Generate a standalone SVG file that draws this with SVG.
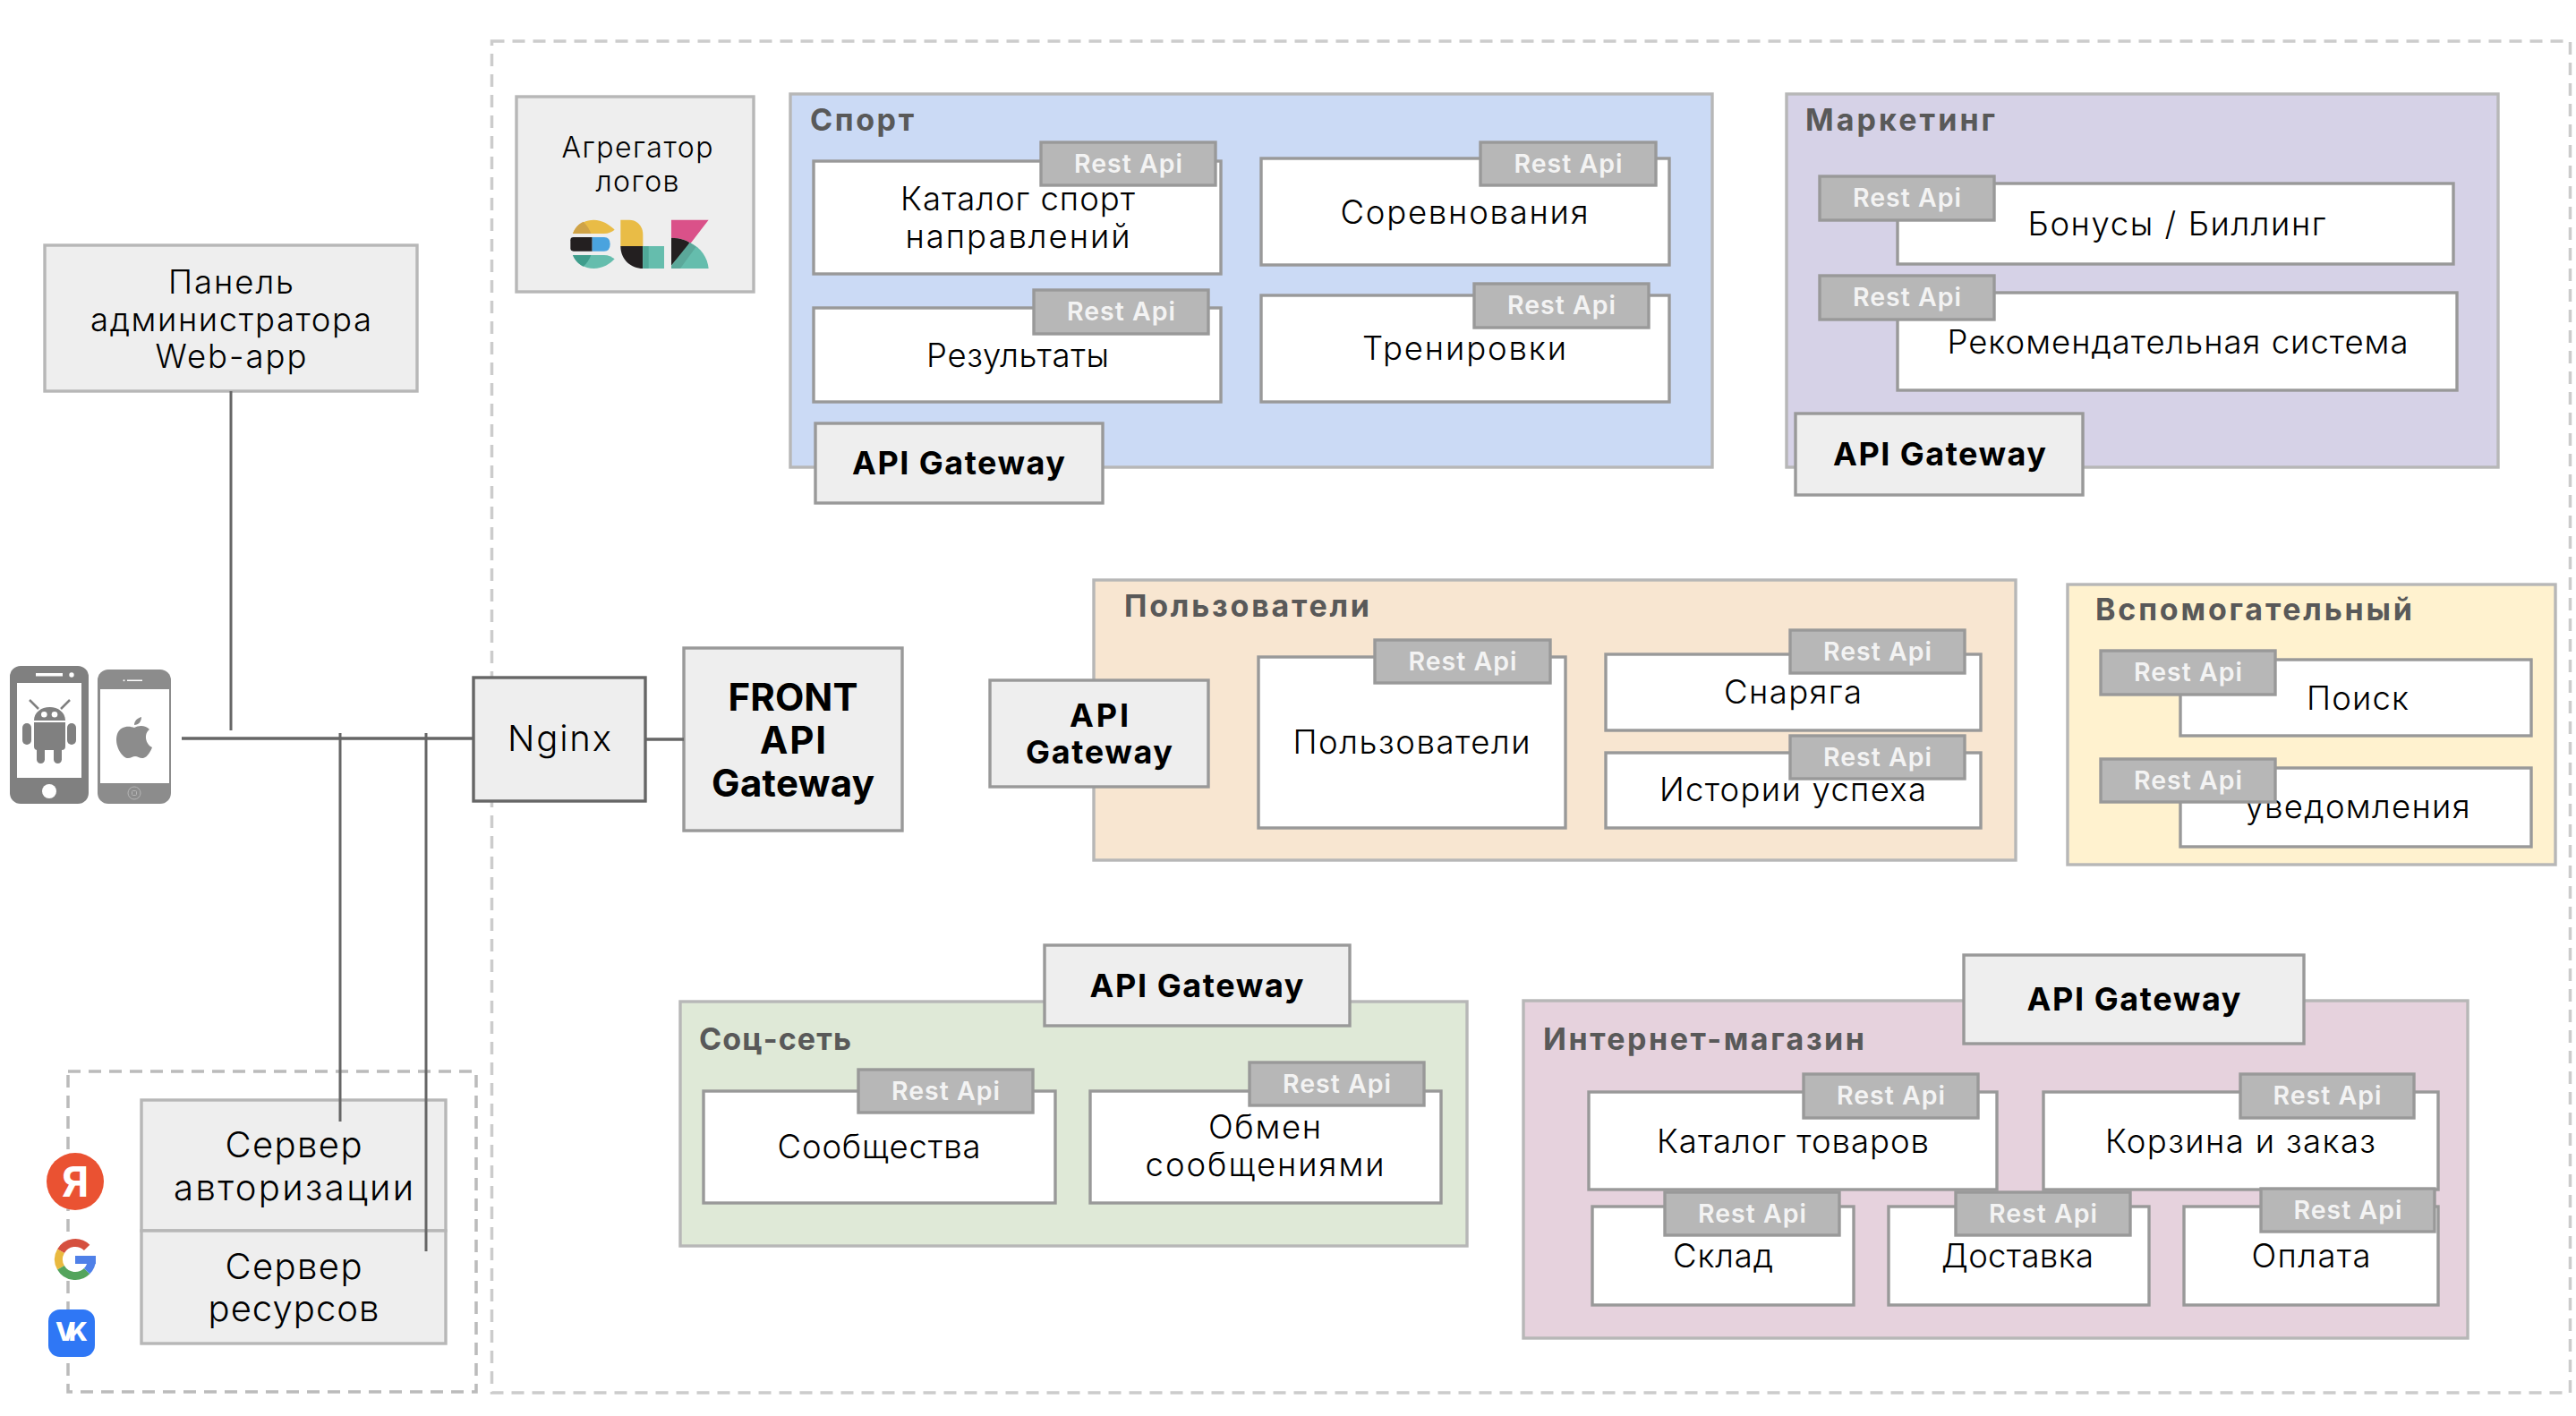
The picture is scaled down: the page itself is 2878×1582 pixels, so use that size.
<svg xmlns="http://www.w3.org/2000/svg" width="2878" height="1582" viewBox="0 0 2878 1582">
<style>
text{font-family:"Inter","Liberation Sans",sans-serif;text-anchor:middle;fill:#000}
.zone{fill:none;stroke-width:3.5;stroke-dasharray:14 9}
.box{fill:#eee;stroke:#b7b7b7;stroke-width:3.4}
.grp{stroke:#b7b7b7;stroke-width:3.4}
.svc{fill:#fff;stroke:#999;stroke-width:3.4}
.tag{fill:#b7b7b7;stroke:#999;stroke-width:3.4}
.gw{fill:#eee;stroke:#999;stroke-width:3.4}
.t{font-size:36.500px;font-weight:300}
.b{font-size:36px;font-weight:700}
.l{font-size:34px;font-weight:700;fill:#595959;text-anchor:start}
.r{font-size:28.500px;font-weight:600;fill:#f3f3f3}
.cn{stroke:#666;stroke-width:3.5;fill:none}
.ph{fill:#808080}
.w{fill:#fff}
</style>
<rect class="zone" style="stroke:#ccc" x="549.500" y="46" width="2322" height="1510"/>
<rect class="zone" style="stroke:#bbb" x="76" y="1197" width="456" height="358"/>

<g id="admin-panel"><rect class="box" x="50" y="274" width="416" height="163"/>
<text class="t" x="258" y="328" textLength="140">Панель</text>
<text class="t" x="258" y="370" textLength="314">администратора</text>
<text class="t" x="258" y="411" textLength="169">Web-app</text></g>

<g id="android-phone">
<rect class="ph" x="11" y="744" width="88" height="154" rx="12"/>
<rect class="w" x="19" y="763" width="72" height="106"/>
<rect class="w" x="40" y="752" width="30" height="3.500"/><circle class="w" cx="80" cy="754" r="2.700"/>
<circle class="w" cx="55" cy="884" r="8"/>
<path class="ph" d="M38 805C38 796 46 790 55.500 790S73 796 73 805ZM38 807H73V834Q73 838 69 838H42Q38 838 38 834Z"/>
<path d="M43 792L33 782M68 792L78 782" stroke="#808080" stroke-width="2.500"/>
<circle class="w" cx="49.300" cy="798.300" r="3.300"/><circle class="w" cx="61" cy="798.300" r="3.300"/>
<rect class="ph" x="25" y="808" width="10" height="24" rx="5"/><rect class="ph" x="75" y="808" width="10" height="24" rx="5"/>
<rect class="ph" x="41" y="830" width="9" height="23" rx="4.500"/><rect class="ph" x="60" y="830" width="9" height="23" rx="4.500"/>
</g>
<g id="apple-phone">
<rect x="109" y="748" width="82" height="150" rx="12" fill="#8c8c8c"/>
<rect class="w" x="112" y="770" width="77" height="105"/>
<rect class="w" x="142" y="759.500" width="17" height="1.500"/><circle class="w" cx="138.500" cy="760.300" r="1"/>
<circle cx="150" cy="886" r="7" fill="none" stroke="#b5b5b5" stroke-width="1"/><rect x="147.500" y="883.500" width="5" height="5" rx="1" fill="none" stroke="#b5b5b5" stroke-width="1"/>
<path fill="#8c8c8c" d="M150 813C145 811 135 810 131 820C127 832 136 846 142 847C146 847.500 148 845 151 845C154 845 156 847.500 160 847C165 846 169 838 170 835C163 832 160 820 167 815C163 810 155 810 150 813ZM150 810C150 805 154 802 158 801C158 806 155 810 150 810Z"/>
</g>

<g id="nginx"><rect x="529" y="757" width="192" height="138" fill="#eee" stroke="#666" stroke-width="3.400"/>
<text x="625" y="839" class="t" style="font-size:40px" textLength="116">Nginx</text></g>
<g id="front-api-gateway"><rect class="box" style="stroke:#999" x="764" y="724" width="244" height="204"/>
<text class="b" style="font-size:42px" x="886" y="794" textLength="145">FRONT</text>
<text class="b" style="font-size:42px" x="886" y="842" textLength="74">API</text>
<text class="b" style="font-size:42px" x="886" y="890" textLength="182">Gateway</text></g>

<g id="log-aggregator"><rect class="box" x="577" y="108" width="265" height="218"/>
<text class="t" style="font-size:32px" x="712" y="176" textLength="169">Агрегатор</text>
<text class="t" style="font-size:32px" x="712" y="214" textLength="93">логов</text>
<g transform="translate(625 235) scale(.3333)">
<path fill="#e9bc46" d="M45 78C55 48 85 32 115 32C145 32 170 50 185 65C175 72 165 78 150 78Z"/>
<path fill="#cfa347" d="M45 78C52 58 65 45 80 38C92 50 100 62 106 78Z"/>
<path fill="#231f20" d="M47 90H110V137H47Q37 137 37 127V100Q37 90 47 90Z"/>
<path fill="#4aa3de" d="M110 90H150Q170 90 170 113T150 137H110Z"/>
<path fill="#65bdad" d="M45 150H150C165 150 175 156 185 163C170 180 145 195 115 195C85 195 55 178 45 150Z"/>
<path fill="#3f9d8c" d="M45 150H106C100 166 92 178 80 188C65 181 52 168 45 150Z"/>
<path fill="#e9bc46" d="M205 32H235C262 32 280 55 280 80V120H205Z"/>
<path fill="#231f20" d="M205 120H280V195C240 195 205 165 205 120Z"/>
<rect x="280" y="120" width="71" height="75" fill="#65bdad"/>
<rect x="280" y="120" width="19" height="75" fill="#4fa898"/>
<path fill="#da5189" d="M375 32H500L440 110C420 98 400 92 375 92Z"/>
<path fill="#231f20" d="M375 92C400 92 420 98 440 110L375 185Z"/>
<path fill="#65bdad" d="M437 108C475 125 497 160 500 195H382Z"/>
<path fill="#5ba89a" d="M375 185L437 108L458 122L405 195H375Z"/>
</g></g>

<g id="sport"><rect class="grp" fill="#cbdaf5" x="883" y="105" width="1030" height="417"/>
<text class="l" x="905" y="146" textLength="116">Спорт</text></g>
<g id="sport-catalog"><rect class="svc" x="909" y="180" width="455" height="126"/>
<text class="t" x="1137" y="235" textLength="262">Каталог спорт</text>
<text class="t" x="1137" y="277" textLength="251">направлений</text>
<rect class="tag" x="1163" y="159" width="195" height="48"/><text class="r" x="1260.500" y="193" textLength="121">Rest Api</text></g>
<g id="sport-results"><rect class="svc" x="909" y="344" width="455" height="105"/>
<text class="t" x="1137" y="410" textLength="204">Результаты</text>
<rect class="tag" x="1155" y="324" width="195" height="49"/><text class="r" x="1252.500" y="358" textLength="121">Rest Api</text></g>
<g id="sport-competitions"><rect class="svc" x="1409" y="177" width="456" height="119"/>
<text class="t" x="1636" y="250" textLength="277">Соревнования</text>
<rect class="tag" x="1654" y="159" width="196" height="48"/><text class="r" x="1752" y="193" textLength="121">Rest Api</text></g>
<g id="sport-trainings"><rect class="svc" x="1409" y="330" width="456" height="119"/>
<text class="t" x="1636" y="402" textLength="228">Тренировки</text>
<rect class="tag" x="1647" y="317" width="195" height="49"/><text class="r" x="1744.500" y="351" textLength="121">Rest Api</text></g>
<g id="sport-gateway"><rect class="gw" x="911" y="473" width="321" height="89"/>
<text class="b" x="1071" y="530" textLength="238">API Gateway</text></g>

<g id="marketing"><rect class="grp" fill="#d6d2e7" x="1996" y="105" width="795" height="417"/>
<text class="l" x="2017" y="146" textLength="212">Маркетинг</text></g>
<g id="marketing-bonus"><rect class="svc" x="2120" y="205" width="621" height="90"/>
<text class="t" x="2432" y="263" textLength="333">Бонусы / Биллинг</text>
<rect class="tag" x="2033" y="197" width="195" height="49"/><text class="r" x="2130.500" y="231" textLength="121">Rest Api</text></g>
<g id="marketing-recommend"><rect class="svc" x="2120" y="327" width="625" height="109"/>
<text class="t" x="2433" y="395" textLength="515">Рекомендательная система</text>
<rect class="tag" x="2033" y="308" width="195" height="49"/><text class="r" x="2130.500" y="342" textLength="121">Rest Api</text></g>
<g id="marketing-gateway"><rect class="gw" x="2006" y="462" width="321" height="91"/>
<text class="b" x="2167" y="520" textLength="238">API Gateway</text></g>

<g id="users"><rect class="grp" fill="#f8e6d1" x="1222" y="648" width="1030" height="313"/>
<text class="l" x="1256" y="689" textLength="274">Пользователи</text></g>
<g id="users-gateway"><rect class="gw" x="1106" y="760" width="244" height="119"/>
<text class="b" x="1228" y="812" textLength="66">API</text>
<text class="b" x="1228" y="853" textLength="164">Gateway</text></g>
<g id="users-service"><rect class="svc" x="1406" y="734" width="343" height="191"/>
<text class="t" x="1577" y="842" textLength="265">Пользователи</text>
<rect class="tag" x="1536" y="715" width="196" height="48"/><text class="r" x="1634" y="749" textLength="121">Rest Api</text></g>
<g id="users-gear"><rect class="svc" x="1794" y="731" width="419" height="85"/>
<text class="t" x="2003" y="786" textLength="154">Снаряга</text>
<rect class="tag" x="2000" y="704" width="195" height="48"/><text class="r" x="2097.500" y="738" textLength="121">Rest Api</text></g>
<g id="users-stories"><rect class="svc" x="1794" y="841" width="419" height="84"/>
<text class="t" x="2003" y="895" textLength="298">Истории успеха</text>
<rect class="tag" x="2000" y="822" width="195" height="48"/><text class="r" x="2097.500" y="856" textLength="121">Rest Api</text></g>

<g id="auxiliary"><rect class="grp" fill="#fff2cf" x="2310" y="653" width="545" height="313"/>
<text class="l" x="2341" y="693" textLength="354">Вспомогательный</text></g>
<g id="aux-search"><rect class="svc" x="2436" y="737" width="392" height="85"/>
<text class="t" x="2634" y="793" textLength="114">Поиск</text>
<rect class="tag" x="2347" y="727" width="195" height="49"/><text class="r" x="2444.500" y="761" textLength="121">Rest Api</text></g>
<g id="aux-notify"><rect class="svc" x="2436" y="858" width="392" height="88"/>
<text class="t" x="2634" y="914" textLength="251">уведомления</text>
<rect class="tag" x="2347" y="848" width="195" height="48"/><text class="r" x="2444.500" y="882" textLength="121">Rest Api</text></g>

<g id="social"><rect class="grp" fill="#dfe9d7" x="760" y="1119" width="879" height="273"/>
<text class="l" x="781" y="1173" textLength="170">Соц-сеть</text></g>
<g id="social-gateway"><rect class="gw" x="1167" y="1056" width="341" height="90"/>
<text class="b" x="1337" y="1114" textLength="239">API Gateway</text></g>
<g id="social-communities"><rect class="svc" x="786" y="1219" width="393" height="125"/>
<text class="t" x="982" y="1294" textLength="227">Сообщества</text>
<rect class="tag" x="959" y="1195" width="195" height="48"/><text class="r" x="1056.500" y="1229" textLength="121">Rest Api</text></g>
<g id="social-messages"><rect class="svc" x="1218" y="1219" width="392" height="125"/>
<text class="t" x="1413" y="1272" textLength="126">Обмен</text>
<text class="t" x="1413" y="1314" textLength="267">сообщениями</text>
<rect class="tag" x="1396" y="1187" width="195" height="48"/><text class="r" x="1493.500" y="1221" textLength="121">Rest Api</text></g>

<g id="shop"><rect class="grp" fill="#e6d2dd" x="1702" y="1118" width="1055" height="377"/>
<text class="l" x="1724" y="1173" textLength="359">Интернет-магазин</text></g>
<g id="shop-gateway"><rect class="gw" x="2194" y="1067" width="380" height="99"/>
<text class="b" x="2384" y="1129" textLength="239">API Gateway</text></g>
<g id="shop-catalog"><rect class="svc" x="1775" y="1220" width="456" height="109"/>
<text class="t" x="2003" y="1288" textLength="304">Каталог товаров</text>
<rect class="tag" x="2015" y="1200" width="195" height="49"/><text class="r" x="2112.500" y="1234" textLength="121">Rest Api</text></g>
<g id="shop-cart"><rect class="svc" x="2283" y="1220" width="441" height="109"/>
<text class="t" x="2503" y="1288" textLength="302">Корзина и заказ</text>
<rect class="tag" x="2503" y="1200" width="194" height="49"/><text class="r" x="2600" y="1234" textLength="121">Rest Api</text></g>
<g id="shop-stock"><rect class="svc" x="1779" y="1348" width="292" height="110"/>
<text class="t" x="1925" y="1416" textLength="112">Склад</text>
<rect class="tag" x="1860" y="1332" width="195" height="48"/><text class="r" x="1957.500" y="1366" textLength="121">Rest Api</text></g>
<g id="shop-delivery"><rect class="svc" x="2110" y="1348" width="291" height="110"/>
<text class="t" x="2254" y="1416" textLength="170">Доставка</text>
<rect class="tag" x="2185" y="1332" width="195" height="48"/><text class="r" x="2282.500" y="1366" textLength="121">Rest Api</text></g>
<g id="shop-payment"><rect class="svc" x="2440" y="1348" width="284" height="110"/>
<text class="t" x="2582" y="1416" textLength="133">Оплата</text>
<rect class="tag" x="2526" y="1328" width="194" height="48"/><text class="r" x="2623" y="1362" textLength="121">Rest Api</text></g>

<g id="auth-server"><rect class="box" x="158" y="1229" width="340" height="146"/>
<text class="t" style="font-size:40px" x="328" y="1293" textLength="153">Сервер</text>
<text class="t" style="font-size:40px" x="328" y="1341" textLength="268">авторизации</text></g>
<g id="resource-server"><rect class="box" x="158" y="1375" width="340" height="126"/>
<text class="t" style="font-size:40px" x="328" y="1429" textLength="153">Сервер</text>
<text class="t" style="font-size:40px" x="328" y="1476" textLength="191">ресурсов</text></g>

<g id="yandex"><ellipse cx="84" cy="1320" rx="32" ry="32" fill="#ea5232"/>
<text x="84" y="1337" style="font-size:46px;font-weight:700;fill:#fff">Я</text></g>
<g id="google"><rect x="61" y="1384" width="46" height="46" fill="#fff"/>
<g fill="none" stroke-width="9" transform="translate(0 1)">
<path stroke="#d5503f" d="M97.100 1392.900A18.500 18.500 0 0 0 68 1396.750"/>
<path stroke="#e9b93f" d="M68 1396.750A18.500 18.500 0 0 0 68 1415.250"/>
<path stroke="#54a45c" d="M68 1415.250A18.500 18.500 0 0 0 97.100 1419.100"/>
<path stroke="#4f80e8" d="M97.100 1419.100A18.500 18.500 0 0 0 102.500 1406"/></g>
<rect x="84" y="1403" width="23" height="9" fill="#4f80e8"/></g>
<g id="vk"><rect x="54" y="1463" width="52" height="53" rx="13" fill="#2f77f5"/>
<text x="80" y="1498" style="font-size:29px;font-weight:800;fill:#fff" textLength="36">VK</text></g>

<g id="connectors">
<path class="cn" d="M203 825H529"/>
<path class="cn" d="M721 826H764"/>
<path class="cn" style="stroke-width:3" d="M258 437V816"/>
<path class="cn" style="stroke-width:3" d="M380 819V1253"/>
<path class="cn" style="stroke-width:3" d="M476 819V1398"/>
</g>
</svg>
